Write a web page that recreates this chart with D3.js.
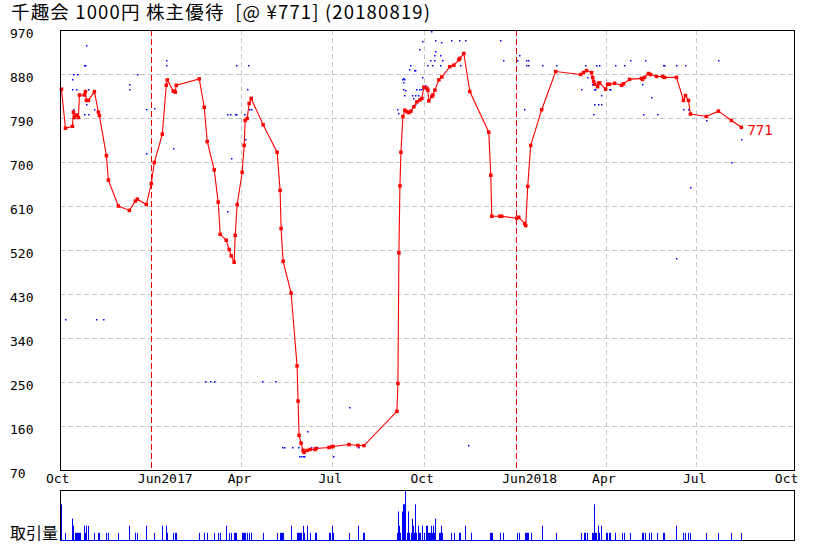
<!DOCTYPE html>
<html><head><meta charset="utf-8">
<script src="https://cdn.jsdelivr.net/npm/d3@7"></script>
<style>
html,body{margin:0;padding:0;background:#fff;}
svg{display:block;}
</style></head>
<body>
<svg id="chart" width="829" height="551"></svg>
<script>
const titleText = "千趣会 1000円 株主優待\u00a0\u00a0[@ ¥771] (20180819)";
const volumeLabel = "取引量";
const lastLabel = "771";

const yTickValues = [70,160,250,340,430,520,610,700,790,880,970];
const xTickDates = ["2016-10-01","2017-01-01","2017-04-01","2017-07-01","2017-10-01","2018-01-01","2018-04-01","2018-07-01","2018-10-01"];
const xTickLabels = ["Oct","Jun2017","Apr","Jul","Oct","Jun2018","Apr","Jul","Oct"];
const yearTickDates = ["2017-01-01","2018-01-01"];

const priceData = [
["2016-10-03",849],["2016-10-07",769],["2016-10-14",773],["2016-10-15",802],["2016-10-16",791],["2016-10-18",796],["2016-10-20",791],
["2016-10-21",837],["2016-10-26",837],["2016-10-27",844],["2016-10-28",826],["2016-10-30",826],["2016-11-05",844],["2016-11-09",802],
["2016-11-10",795],["2016-11-17",713],["2016-11-19",663],["2016-11-29",610],["2016-12-10",601],["2016-12-16",620],["2016-12-18",624],
["2016-12-27",613],["2017-01-01",656],["2017-01-04",699],["2017-01-12",757],["2017-01-16",857],["2017-01-17",868],["2017-01-23",845],
["2017-01-25",843],["2017-01-26",857],["2017-02-18",870],["2017-02-23",812],["2017-02-26",742],["2017-03-05",684],["2017-03-09",618],
["2017-03-11",552],["2017-03-17",540],["2017-03-20",521],["2017-03-22",508],["2017-03-25",495],["2017-03-26",550],["2017-03-28",613],
["2017-04-02",679],["2017-04-04",734],["2017-04-05",785],["2017-04-07",789],["2017-04-09",820],["2017-04-11",830],["2017-04-23",776],
["2017-05-07",720],["2017-05-10",642],["2017-05-11",564],["2017-05-13",497],["2017-05-21",432],["2017-05-27",283],["2017-05-28",211],
["2017-05-29",141],["2017-05-31",125],["2017-06-02",110],["2017-06-03",106],["2017-06-06",110],["2017-06-09",112],["2017-06-14",112],
["2017-06-15",114],["2017-06-28",116],["2017-07-01",118],["2017-07-02",118],["2017-07-18",122],["2017-07-27",120],["2017-08-02",120],
["2017-09-04",190],["2017-09-05",247],["2017-09-06",514],["2017-09-07",651],["2017-09-08",720],["2017-09-10",793],["2017-09-12",806],
["2017-09-14",803],["2017-09-16",801],["2017-09-18",804],["2017-09-21",813],["2017-09-24",823],["2017-09-27",827],["2017-09-29",830],
["2017-10-01",853],["2017-10-04",851],["2017-10-05",847],["2017-10-06",825],["2017-10-09",834],["2017-10-10",837],["2017-10-12",847],
["2017-10-16",868],["2017-10-19",874],["2017-10-27",895],["2017-10-31",898],["2017-11-05",909],["2017-11-06",912],["2017-11-10",922],
["2017-11-16",844],["2017-12-05",761],["2017-12-07",673],["2017-12-08",589],["2017-12-16",589],["2017-12-18",589],["2018-01-02",585],
["2018-01-04",587],["2018-01-10",574],["2018-01-11",570],["2018-01-13",650],["2018-01-16",734],["2018-01-27",807],["2018-02-10",885],
["2018-03-07",879],["2018-03-10",883],["2018-03-13",887],["2018-03-18",883],["2018-03-19",873],["2018-03-20",865],["2018-03-21",859],
["2018-03-24",854],["2018-03-25",861],["2018-03-26",862],["2018-04-01",849],["2018-04-03",859],["2018-04-05",859],["2018-04-10",861],
["2018-04-17",857],["2018-04-19",860],["2018-04-25",869],["2018-05-07",871],["2018-05-08",869],["2018-05-10",873],["2018-05-14",881],
["2018-05-16",879],["2018-05-22",875],["2018-05-28",875],["2018-05-30",873],["2018-06-11",873],["2018-06-18",826],["2018-06-20",836],
["2018-06-23",826],["2018-06-25",798],["2018-07-11",793],["2018-07-23",804],["2018-08-05",785],["2018-08-15",771]
];

const volumeData = [
["2016-10-03",5],["2016-10-07",1],["2016-10-14",3],["2016-10-15",2],["2016-10-17",1],["2016-10-18",1],["2016-10-19",1],["2016-10-20",1],
["2016-10-21",1],["2016-10-22",1],["2016-10-26",2],["2016-10-27",1],["2016-10-28",2],["2016-10-30",2],["2016-11-05",1],["2016-11-09",1],
["2016-11-10",1],["2016-11-17",1],["2016-11-19",1],["2016-11-29",1],["2016-12-10",2],["2016-12-16",1],["2016-12-18",1],["2016-12-27",2],
["2017-01-04",1],["2017-01-12",2],["2017-01-16",2],["2017-01-17",1],["2017-01-23",1],["2017-01-25",1],["2017-01-26",1],["2017-02-18",1],
["2017-02-23",1],["2017-02-26",1],["2017-03-05",1],["2017-03-09",1],["2017-03-11",1],["2017-03-17",2],["2017-03-20",1],["2017-03-22",1],
["2017-03-25",1],["2017-03-26",1],["2017-03-27",1],["2017-04-02",1],["2017-04-03",1],["2017-04-04",1],["2017-04-05",1],["2017-04-07",1],
["2017-04-09",1],["2017-04-11",1],["2017-04-23",1],["2017-05-07",1],["2017-05-10",1],["2017-05-11",1],["2017-05-12",1],["2017-05-13",1],
["2017-05-21",2],["2017-05-27",1],["2017-05-28",1],["2017-05-29",1],["2017-05-30",1],["2017-05-31",1],["2017-06-02",2],["2017-06-03",1],
["2017-06-06",2],["2017-06-09",1],["2017-06-14",1],["2017-06-15",1],["2017-06-28",1],["2017-06-29",1],["2017-07-01",2],["2017-07-02",1],
["2017-07-18",1],["2017-07-27",2],["2017-08-01",1],["2017-08-02",1],["2017-09-04",1],["2017-09-05",4],["2017-09-06",2],["2017-09-07",1],
["2017-09-09",4],["2017-09-10",5],["2017-09-11",5],["2017-09-12",7],["2017-09-14",1],["2017-09-15",4],["2017-09-16",1],["2017-09-18",1],
["2017-09-19",3],["2017-09-20",2],["2017-09-21",1],["2017-09-22",5],["2017-09-23",1],["2017-09-25",2],["2017-09-26",1],["2017-09-27",1],
["2017-09-29",2],["2017-10-01",1],["2017-10-03",2],["2017-10-04",2],["2017-10-05",1],["2017-10-06",1],["2017-10-07",1],["2017-10-08",2],
["2017-10-09",1],["2017-10-10",2],["2017-10-11",1],["2017-10-12",3],["2017-10-16",1],["2017-10-17",1],["2017-10-18",2],["2017-10-19",1],
["2017-10-28",1],["2017-10-31",1],["2017-11-05",1],["2017-11-06",1],["2017-11-11",2],["2017-11-17",1],["2017-12-06",1],["2017-12-07",1],
["2017-12-08",1],["2017-12-16",1],["2017-12-19",1],["2018-01-02",1],["2018-01-04",1],["2018-01-10",1],["2018-01-11",1],["2018-01-12",1],
["2018-01-13",1],["2018-01-16",1],["2018-01-27",2],["2018-02-10",1],["2018-03-07",1],["2018-03-10",1],["2018-03-11",1],["2018-03-13",1],
["2018-03-18",1],["2018-03-19",1],["2018-03-20",5],["2018-03-21",1],["2018-03-22",1],["2018-03-24",2],["2018-03-25",1],["2018-03-27",2],
["2018-04-01",1],["2018-04-02",1],["2018-04-04",1],["2018-04-05",1],["2018-04-10",1],["2018-04-17",1],["2018-04-19",1],["2018-04-25",1],
["2018-05-07",1],["2018-05-08",1],["2018-05-10",1],["2018-05-14",1],["2018-05-16",1],["2018-05-22",1],["2018-05-28",1],["2018-05-30",1],
["2018-06-11",2],["2018-06-18",1],["2018-06-20",1],["2018-06-23",1],["2018-06-25",1],["2018-07-11",1],["2018-07-23",1],["2018-08-05",1],
["2018-08-15",1]
];

const dotData = [
["2016-10-07",378],["2016-10-14",869],["2016-10-14",849],["2016-10-15",879],["2016-10-19",879],["2016-10-18",849],["2016-10-15",808],
["2016-10-15",798],["2016-10-26",798],["2016-10-30",798],["2016-10-30",849],["2016-10-26",898],["2016-10-27",898],["2016-10-28",818],
["2016-10-28",939],["2016-11-05",808],["2016-11-07",378],["2016-11-14",378],["2016-12-10",859],["2016-12-10",849],["2016-12-18",879],
["2016-12-27",808],["2016-12-27",718],["2017-01-04",810],["2017-01-16",909],["2017-01-16",898],["2017-01-23",728],["2017-02-24",252],
["2017-03-01",252],["2017-03-05",252],["2017-03-18",798],["2017-03-21",798],["2017-03-26",798],["2017-03-27",798],["2017-04-04",798],
["2017-04-07",849],["2017-04-09",808],["2017-04-11",808],["2017-04-05",748],["2017-03-22",708],["2017-03-18",599],["2017-03-27",898],
["2017-04-08",898],["2017-04-22",252],["2017-05-05",252],["2017-05-12",118],["2017-05-14",118],["2017-05-22",118],["2017-05-28",118],
["2017-05-29",98],["2017-05-31",98],["2017-06-02",98],["2017-06-03",98],["2017-06-06",149],["2017-06-10",118],["2017-06-15",118],
["2017-06-16",118],["2017-07-02",98],["2017-07-18",198],["2017-07-27",118],["2017-09-04",808],["2017-09-05",800],["2017-09-09",869],
["2017-09-10",871],["2017-09-11",869],["2017-09-10",863],["2017-09-10",849],["2017-09-12",847],["2017-09-11",838],["2017-09-16",890],
["2017-09-17",898],["2017-09-21",888],["2017-09-22",888],["2017-09-19",838],["2017-09-22",838],["2017-09-25",838],["2017-09-23",849],
["2017-09-26",849],["2017-09-28",849],["2017-09-20",830],["2017-09-22",818],["2017-09-29",873],["2017-09-29",947],["2017-09-26",931],
["2017-10-02",857],["2017-10-04",898],["2017-10-07",908],["2017-10-08",968],["2017-10-09",898],["2017-10-11",908],["2017-10-11",918],
["2017-10-12",928],["2017-10-12",949],["2017-10-17",918],["2017-10-17",898],["2017-10-19",908],["2017-10-18",945],["2017-10-28",949],
["2017-11-05",949],["2017-11-06",898],["2017-11-11",949],["2017-11-14",121],["2017-12-16",949],["2017-12-19",908],["2018-01-02",908],
["2018-01-04",918],["2018-01-09",808],["2018-01-11",898],["2018-01-11",908],["2018-01-13",898],["2018-01-13",909],["2018-01-27",898],
["2018-02-10",898],["2018-03-07",849],["2018-03-11",898],["2018-03-13",873],["2018-03-18",859],["2018-03-20",849],["2018-03-21",849],
["2018-03-19",798],["2018-03-20",818],["2018-03-22",898],["2018-03-24",818],["2018-03-25",898],["2018-03-27",838],["2018-03-27",818],
["2018-04-04",849],["2018-04-05",849],["2018-04-10",898],["2018-04-19",898],["2018-04-25",909],["2018-05-07",859],["2018-05-08",798],
["2018-05-10",909],["2018-05-16",832],["2018-05-22",798],["2018-05-28",898],["2018-05-30",898],["2018-06-11",898],["2018-06-11",504],
["2018-06-18",808],["2018-06-20",898],["2018-06-23",808],["2018-06-25",648],["2018-07-11",785],["2018-07-23",909],["2018-08-05",699],
["2018-08-15",748]
];

const parse = d3.utcParse("%Y-%m-%d");
const svg = d3.select("#chart");
const M = {left:60, right:794, top:30, bottom:470, vTop:490, vBottom:540};

const x = d3.scaleUtc()
  .domain([new Date(Date.UTC(2016,9,1,13)), new Date(Date.UTC(2018,9,6,17))])
  .range([M.left, M.right]);
const y = d3.scaleLinear().domain([70,970]).range([M.bottom, M.top]);
const yv = d3.scaleLinear().domain([0,7]).range([M.vBottom, M.vTop]);

svg.append("rect").attr("width",829).attr("height",551).attr("fill","#fff");

// title
svg.append("text").attr("x",11).attr("y",18.5)
  .attr("font-family","'Noto Sans CJK JP', sans-serif").attr("font-size",18.5)
  .attr("textLength",419).attr("lengthAdjust","spacing")
  .attr("fill","#000").text(titleText);

// horizontal grid
svg.append("g").selectAll("line").data(yTickValues.filter(v=>v>70 && v<970)).join("line")
  .attr("x1",M.left).attr("x2",M.right)
  .attr("y1",d=>Math.round(y(d))+0.5).attr("y2",d=>Math.round(y(d))+0.5)
  .attr("stroke","#c8c8c8").attr("stroke-dasharray","5,3");

// vertical grid
const gridDates = xTickDates.slice(1, xTickDates.length-1);
svg.append("g").selectAll("line").data(gridDates).join("line")
  .attr("x1",d=>Math.round(x(parse(d)))+0.5).attr("x2",d=>Math.round(x(parse(d)))+0.5)
  .attr("y1",M.top).attr("y2",M.bottom)
  .attr("stroke",d=>yearTickDates.includes(d)?"#e00000":"#c8c8c8")
  .attr("stroke-dasharray",d=>yearTickDates.includes(d)?"6,3":"5,3");

// y axis labels
const yAxis = d3.axisLeft(y).tickValues(yTickValues).tickSize(0).tickFormat(d3.format("d"));
const gy = svg.append("g").attr("transform",`translate(${M.left},0)`).call(yAxis);
gy.select(".domain").remove();
gy.selectAll("text").attr("x",10-M.left).attr("dy","0.55em").attr("text-anchor","start")
  .attr("font-family","'DejaVu Sans Mono', monospace").attr("font-size",13).attr("fill","#000");

// x axis labels
const xAxis = d3.axisBottom(x).tickValues(xTickDates.map(parse)).tickSize(0)
  .tickFormat((d,i)=>xTickLabels[i]);
const gx = svg.append("g").attr("transform",`translate(0,${M.bottom})`).call(xAxis);
gx.select(".domain").remove();
gx.selectAll("text").attr("text-anchor","start").attr("x",-14).attr("y",4).attr("dy","0.71em")
  .attr("font-family","'DejaVu Sans Mono', monospace").attr("font-size",13).attr("fill","#000");

// blue dots
svg.append("g").selectAll("rect").data(dotData).join("rect")
  .attr("x",d=>Math.round(x(parse(d[0])))).attr("y",d=>Math.round(y(d[1])))
  .attr("width",1.5).attr("height",1.5).attr("fill","#0000ff");

// price line
const line = d3.line().x(d=>x(parse(d[0]))).y(d=>y(d[1]));
svg.append("path").datum(priceData).attr("d",line).attr("fill","none")
  .attr("stroke","#ff0000").attr("stroke-width",1.1);
svg.append("g").selectAll("rect").data(priceData).join("rect")
  .attr("x",d=>x(parse(d[0]))-1.75).attr("y",d=>y(d[1])-1.75)
  .attr("width",3.5).attr("height",3.5).attr("fill","#ff0000");

// last label
const last = priceData[priceData.length-1];
svg.append("text").attr("x",x(parse(last[0]))+6).attr("y",y(last[1])+8)
  .attr("font-family","'DejaVu Sans Mono', monospace").attr("font-size",14)
  .attr("fill","#ff0000").text(lastLabel);

// main frame
svg.append("rect").attr("x",M.left+0.5).attr("y",M.top+0.5)
  .attr("width",M.right-M.left).attr("height",M.bottom-M.top)
  .attr("fill","none").attr("stroke","#000");

// volume panel
svg.append("rect").attr("x",M.left+0.5).attr("y",M.vTop+0.5)
  .attr("width",M.right-M.left).attr("height",M.vBottom-M.vTop)
  .attr("fill","none").attr("stroke","#000");
svg.append("line")
  .attr("x1",M.left).attr("x2",Math.round(x(parse(last[0])))+1)
  .attr("y1",M.vBottom+0.5).attr("y2",M.vBottom+0.5).attr("stroke","#0000ff");
svg.append("g").selectAll("line").data(volumeData).join("line")
  .attr("x1",d=>Math.round(x(parse(d[0])))+0.5).attr("x2",d=>Math.round(x(parse(d[0])))+0.5)
  .attr("y1",M.vBottom+0.5).attr("y2",d=>yv(d[1]))
  .attr("stroke","#0000ff");

svg.append("text").attr("x",10).attr("y",539)
  .attr("font-family","'Noto Sans CJK JP', sans-serif").attr("font-size",16)
  .attr("fill","#000").text(volumeLabel);
</script>
</body></html>
